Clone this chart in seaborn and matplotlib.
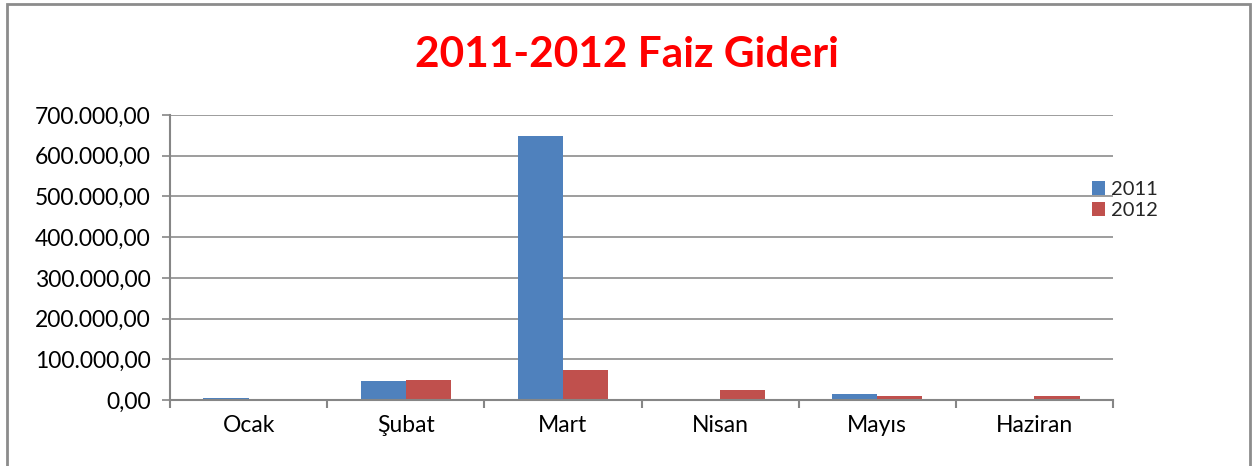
import matplotlib
matplotlib.use("Agg")
import matplotlib.pyplot as plt
import matplotlib.ticker as mticker
from matplotlib.patches import Rectangle
import seaborn as sns
import pandas as pd

months = ["Ocak", "Şubat", "Mart", "Nisan", "Mayıs", "Haziran"]
series_names = ["2011", "2012"]
values_2011 = [6000, 46000, 648000, 3500, 14000, 1000]
values_2012 = [3500, 48000, 73000, 23500, 11000, 10000]
y_ticks = [0, 100000, 200000, 300000, 400000, 500000, 600000, 700000]

colors = ["#4F81BD", "#C0504D"]

df = pd.DataFrame({
    "Ay": months * 2,
    "Yıl": [series_names[0]] * len(months) + [series_names[1]] * len(months),
    "Değer": values_2011 + values_2012,
})

sns.set_theme(style="white")
plt.rcParams["font.family"] = ["Lato", "DejaVu Sans"]

W, H = 1257, 466
fig = plt.figure(figsize=(W / 100, H / 100), dpi=100)
ax = fig.add_axes([170 / W, 1 - 400 / H, (1113 - 170) / W, (400 - 115) / H])

sns.barplot(data=df, x="Ay", y="Değer", hue="Yıl", palette=colors,
            width=0.574, gap=0, ax=ax, saturation=1, edgecolor="none")

ax.set_ylim(0, 700000)
ax.set_xlim(-0.5, len(months) - 0.5)
ax.set_yticks(y_ticks)
ax.yaxis.set_major_formatter(mticker.FuncFormatter(
    lambda v, p: f"{v:,.2f}".replace(",", "X").replace(".", ",").replace("X", ".")))
ax.grid(axis="y", color="#8C8C8C", linewidth=1.2)
ax.set_axisbelow(True)
ax.set_xlabel("")
ax.set_ylabel("")

for s in ["top", "right"]:
    ax.spines[s].set_visible(False)
for s in ["left", "bottom"]:
    ax.spines[s].set_visible(True)
    ax.spines[s].set_color("#868686")
    ax.spines[s].set_linewidth(1.5)

ax.tick_params(axis="y", which="major", left=True, length=6, width=1.2,
               color="#868686", labelsize=16.5, labelcolor="black", pad=8)
ax.tick_params(axis="x", which="major", length=0, labelsize=16.5,
               labelcolor="black", pad=11)
ax.set_xticks([i - 0.5 for i in range(len(months) + 1)], minor=True)
ax.tick_params(axis="x", which="minor", bottom=True, length=6, width=1.5,
               color="#868686")

leg = ax.legend(loc="center left", bbox_to_anchor=(1084 / W, 1 - 200 / H),
                bbox_transform=fig.transFigure, frameon=False, fontsize=14.5,
                handlelength=0.65, handleheight=0.65, handletextpad=0.3,
                labelspacing=0.2, borderaxespad=0)

fig.text(627 / W, 1 - 55 / H, "2011-2012 Faiz Gideri", color="#FF0000",
         fontsize=30.5, fontweight="bold", ha="center", va="center")

fig.patches.append(Rectangle((7 / W, -0.1), (1250 - 7) / W, 1.1 - 3.5 / H,
                             transform=fig.transFigure, fill=False,
                             edgecolor="#8C8C8C", linewidth=2))

fig.savefig("out.png", dpi=100, facecolor="white")
